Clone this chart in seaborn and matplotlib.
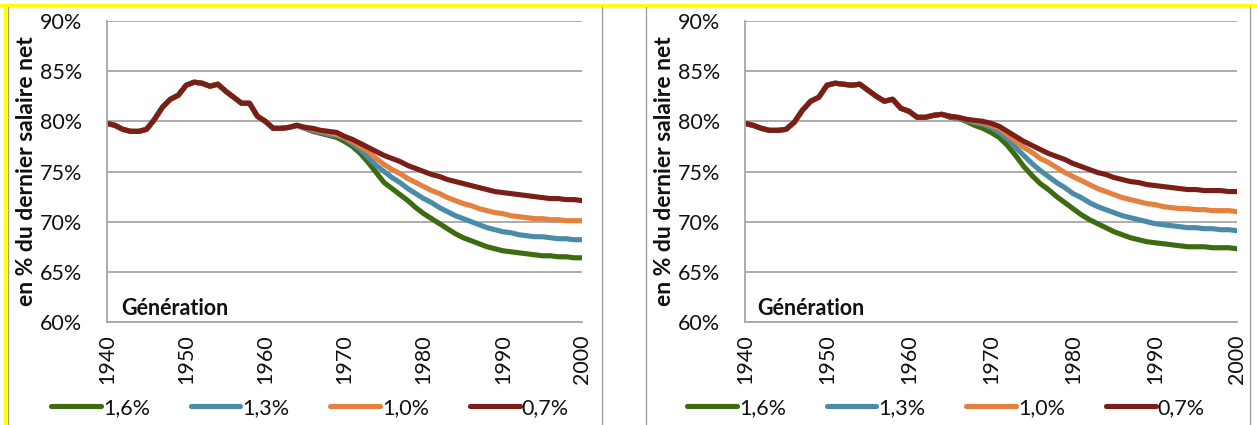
import numpy as np
import pandas as pd
import matplotlib
matplotlib.use("Agg")
import matplotlib.pyplot as plt
from matplotlib.lines import Line2D
import seaborn as sns

sns.set_style("white")
plt.rcParams['font.family'] = ['Lato', 'DejaVu Sans']

years = list(range(1940, 2001))
series_labels = ["1,6%", "1,3%", "1,0%", "0,7%"]
colors = ["#3D6B10", "#4A8CA8", "#E5813F", "#7A1F17"]
y_ticks = [60, 65, 70, 75, 80, 85, 90]
y_tick_labels = ["60%", "65%", "70%", "75%", "80%", "85%", "90%"]
x_ticks = [1940, 1950, 1960, 1970, 1980, 1990, 2000]

# Left panel -------------------------------------------------------------
left_common = [79.8, 79.6, 79.2, 79.0, 79.0, 79.2, 80.2, 81.4, 82.2, 82.6,
               83.6, 83.9, 83.8, 83.5, 83.7, 83.0, 82.4, 81.8, 81.8, 80.5,
               80.0, 79.3, 79.3, 79.4, 79.6]
left_red = [79.4, 79.3, 79.1, 79.0, 78.9, 78.5, 78.2, 77.8, 77.4, 77.0,
            76.6, 76.3, 76.0, 75.6, 75.3, 75.0, 74.7, 74.5, 74.2, 74.0,
            73.8, 73.6, 73.4, 73.2, 73.0, 72.9, 72.8, 72.7, 72.6, 72.5,
            72.4, 72.3, 72.3, 72.2, 72.2, 72.1]
left_orange = [79.4, 79.2, 79.0, 78.9, 78.7, 78.4, 78.0, 77.5, 77.0, 76.3,
               75.7, 75.2, 74.8, 74.3, 73.9, 73.5, 73.1, 72.8, 72.4, 72.1,
               71.8, 71.6, 71.3, 71.1, 70.9, 70.8, 70.6, 70.5, 70.4, 70.3,
               70.3, 70.2, 70.2, 70.1, 70.1, 70.1]
left_blue = [79.3, 79.1, 78.9, 78.7, 78.6, 78.3, 77.8, 77.2, 76.4, 75.6,
             75.0, 74.4, 73.9, 73.3, 72.8, 72.3, 71.9, 71.4, 71.0, 70.6,
             70.3, 70.0, 69.7, 69.4, 69.2, 69.0, 68.9, 68.7, 68.6, 68.5,
             68.5, 68.4, 68.3, 68.3, 68.2, 68.2]
left_green = [79.3, 79.0, 78.8, 78.6, 78.4, 78.0, 77.5, 76.8, 75.9, 74.9,
              73.9, 73.3, 72.7, 72.1, 71.4, 70.8, 70.3, 69.8, 69.3, 68.8,
              68.4, 68.1, 67.8, 67.5, 67.3, 67.1, 67.0, 66.9, 66.8, 66.7,
              66.6, 66.6, 66.5, 66.5, 66.4, 66.4]

# Right panel ------------------------------------------------------------
right_common = [79.8, 79.6, 79.3, 79.1, 79.1, 79.2, 79.9, 81.1, 82.0, 82.4,
                83.6, 83.8, 83.7, 83.6, 83.7, 83.1, 82.5, 82.0, 82.2, 81.3,
                81.0, 80.4, 80.4, 80.6, 80.7]
right_red = [80.5, 80.4, 80.2, 80.1, 80.0, 79.8, 79.5, 79.0, 78.5, 78.0,
             77.6, 77.2, 76.8, 76.5, 76.2, 75.8, 75.5, 75.2, 74.9, 74.7,
             74.4, 74.2, 74.0, 73.9, 73.7, 73.6, 73.5, 73.4, 73.3, 73.2,
             73.2, 73.1, 73.1, 73.1, 73.0, 73.0]
right_orange = [80.5, 80.4, 80.2, 80.0, 79.9, 79.6, 79.3, 78.7, 78.0, 77.4,
                76.9, 76.3, 75.9, 75.4, 74.9, 74.5, 74.1, 73.7, 73.3, 73.0,
                72.7, 72.4, 72.2, 72.0, 71.8, 71.7, 71.5, 71.4, 71.3, 71.3,
                71.2, 71.2, 71.1, 71.1, 71.1, 71.0]
right_blue = [80.5, 80.3, 80.1, 79.9, 79.7, 79.4, 78.9, 78.3, 77.4, 76.6,
              75.8, 75.1, 74.5, 73.9, 73.4, 72.8, 72.4, 71.9, 71.5, 71.2,
              70.9, 70.6, 70.4, 70.2, 70.0, 69.8, 69.7, 69.6, 69.5, 69.4,
              69.4, 69.3, 69.3, 69.2, 69.2, 69.1]
right_green = [80.4, 80.3, 80.0, 79.6, 79.3, 78.9, 78.4, 77.6, 76.6, 75.5,
               74.6, 73.8, 73.2, 72.5, 71.9, 71.3, 70.7, 70.2, 69.8, 69.4,
               69.0, 68.7, 68.4, 68.2, 68.0, 67.9, 67.8, 67.7, 67.6, 67.5,
               67.5, 67.5, 67.4, 67.4, 67.4, 67.3]


def build_df(common, green, blue, orange, red):
    rows = []
    for lab, tail in zip(series_labels, [green, blue, orange, red]):
        vals = common + tail
        for yr, v in zip(years, vals):
            rows.append({"year": yr, "value": v, "serie": lab})
    return pd.DataFrame(rows)


df_left = build_df(left_common, left_green, left_blue, left_orange, left_red)
df_right = build_df(right_common, right_green, right_blue, right_orange, right_red)

W, H = 1257, 425
fig = plt.figure(figsize=(W / 100, H / 100), dpi=100)
fig.patch.set_facecolor("white")

grid_col = "#A6A6A6"
txt_col = "#111111"
FS = 15.5
LW = 3.7


def px_axes(x0, x1, ytop, ybot):
    return fig.add_axes([x0 / W, 1 - ybot / H, (x1 - x0) / W, (ybot - ytop) / H])


def style(ax, df, gen_x, legend_center):
    sns.lineplot(data=df, x="year", y="value", hue="serie",
                 hue_order=series_labels, palette=colors, linewidth=LW,
                 ax=ax, legend=False)
    ax.set_xlim(1940, 2000)
    ax.set_ylim(60, 90)
    ax.set_yticks(y_ticks)
    ax.set_yticklabels(y_tick_labels, fontsize=FS, color=txt_col)
    ax.set_xticks(x_ticks)
    ax.set_xticklabels([str(t) for t in x_ticks], rotation=90,
                       fontsize=FS, color=txt_col)
    ax.set_xticks(years, minor=True)
    ax.tick_params(axis="x", which="both", direction="out", length=6,
                   width=1.1, color=grid_col, pad=3)
    ax.tick_params(axis="y", which="both", direction="out", length=6,
                   width=1.1, color=grid_col, pad=12)
    ax.grid(axis="y", color=grid_col, linewidth=1.3)
    ax.grid(axis="x", visible=False)
    ax.set_axisbelow(True)
    for s in ["top", "right"]:
        ax.spines[s].set_visible(False)
    for s in ["left", "bottom"]:
        ax.spines[s].set_visible(True)
        ax.spines[s].set_color(grid_col)
        ax.spines[s].set_linewidth(1.3)
    ax.set_xlabel("")
    ax.set_ylabel("en % du dernier salaire net", fontsize=16.5, fontweight="bold",
                  color=txt_col, labelpad=2)
    ax.text(gen_x, 60.7, "Génération", fontsize=FS, fontweight="bold",
            color=txt_col, ha="left", va="baseline")
    handles = [Line2D([0], [0], color=c, linewidth=LW) for c in colors]
    fig.legend(handles, series_labels, loc="center",
               bbox_to_anchor=(legend_center / W, 1 - 408 / H), ncol=4,
               frameon=False, fontsize=FS, handlelength=2.3,
               handletextpad=0.1, columnspacing=1.9,
               labelcolor=txt_col)


axL = px_axes(107, 582, 21, 322)
style(axL, df_left, 1941.8, 310)
axR = px_axes(745, 1237, 21, 322)
style(axR, df_right, 1941.5, 946)


def fline(x0, y0, x1, y1, color, lw):
    fig.add_artist(Line2D([x0 / W, x1 / W], [1 - y0 / H, 1 - y1 / H],
                          color=color, linewidth=lw, transform=fig.transFigure))


fline(8, 6, 8, H, "#A0A0A0", 1.0)
fline(602, 6, 602, H, "#A0A0A0", 1.0)
fline(646, 6, 646, H, "#A0A0A0", 1.0)
fline(1250, 6, 1250, H, "#A0A0A0", 1.0)
fline(0, 5, W, 5, "#FFFF00", 2.2)
fline(5, 5, 5, H, "#FFFF00", 2.2)

fig.savefig("out.png", dpi=100, facecolor="white")
